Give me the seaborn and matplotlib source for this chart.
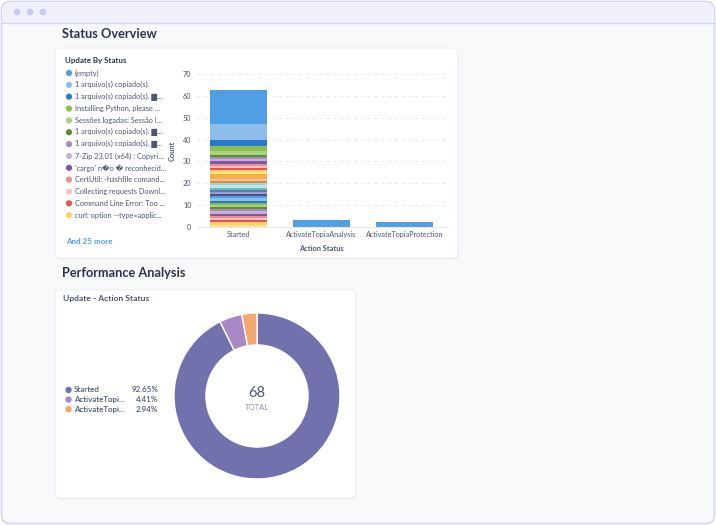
import numpy as np
import pandas as pd
import matplotlib
matplotlib.use("Agg")
import matplotlib.pyplot as plt
import seaborn as sns
from matplotlib.patches import FancyBboxPatch, Circle, Rectangle

# ---------------- data ----------------
statuses = ["Started", "ActivateTopiaAnalysis", "ActivateTopiaProtection"]

shown_labels = [
    "(empty)",
    "1 arquivo(s) copiado(s).",
    "1 arquivo(s) copiado(s). █...",
    "Installing Python, please ...",
    "Sessões logadas: Sessão I...",
    "1 arquivo(s) copiado(s). █...",
    "1 arquivo(s) copiado(s). █...",
    "7-Zip 23.01 (x64) : Copyri...",
    "'cargo' n\ufffdo \ufffd reconhecid...",
    "CertUtil: -hashfile comand...",
    "Collecting requests Downl...",
    "Command Line Error: Too ...",
    "curl: option --type=applic...",
]
hidden_labels = [
    "Other 01", "Other 02", "Other 03", "Other 04", "Other 05",
    "Other 06", "Other 07", "Other 08", "Other 09", "Other 10",
    "Other 11", "Other 12", "Other 13", "Other 14", "Other 15",
    "Other 16", "Other 17", "Other 18", "Other 19", "Other 20",
    "Other 21", "Other 22", "Other 23", "Other 24", "Other 25",
]
more_text = "And 25 more"

# counts of each legend entry (shown + hidden) in the "Started" bar
started_counts = [16, 7, 3, 2, 2, 1, 1, 1, 1, 1, 1, 1, 1,
                  1, 1, 1, 1, 1, 1, 1, 1, 1, 1, 1, 1, 1,
                  1, 1, 1, 1, 1, 1, 1, 1, 1, 1, 1, 1]
analysis_counts = {"(empty)": 3}
protection_counts = {"(empty)": 2}

donut_labels = ["Started", "ActivateTopi...", "ActivateTopi..."]
donut_values = [63, 3, 2]
donut_pcts = ["92.65%", "4.41%", "2.94%"]
donut_total = "68"

series_palette = [
    "#509EE3", "#8DBDEB", "#2A78CC",
    "#88BF4D", "#A9D17E", "#5E8F2D",
    "#A989C5", "#C6B1DA", "#7E58A3",
    "#EF8C8C", "#F6C2C2", "#E35555",
    "#F9D45C", "#FBE194", "#EFB829",
    "#F2A86F", "#F7C7A0", "#E9853C",
    "#98D9D9", "#C0E8E8", "#5FC0C0",
    "#7172AD", "#9C9DCB", "#4E4F8C",
]
donut_colors = ["#7172AD", "#A989C5", "#F2A86F"]

# ---------------- style ----------------
sns.set_theme(style="white")
FONT = ["Lato", "DejaVu Sans"]
plt.rcParams["font.family"] = FONT
DARK = "#2E3447"
MID = "#4C5773"
GRAY = "#949AAB"

W, H = 716, 525
fig = plt.figure(figsize=(W / 100, H / 100), dpi=100)
fig.patch.set_facecolor("white")

bg = fig.add_axes([0, 0, 1, 1])
bg.set_xlim(0, W)
bg.set_ylim(H, 0)
bg.axis("off")
bg.set_zorder(-10)

# browser frame
bg.add_patch(FancyBboxPatch((1.5, 1.5), W - 3, H - 3, boxstyle="round,pad=0,rounding_size=9",
                            facecolor="#F8F9FB", edgecolor="#D4D5F3", linewidth=1.2))
bg.add_patch(FancyBboxPatch((2, 2), W - 4, 21, boxstyle="round,pad=0,rounding_size=8",
                            facecolor="#F0F0FC", edgecolor="none"))
bg.add_patch(Rectangle((2, 14), W - 4, 9, facecolor="#F0F0FC", edgecolor="none"))
bg.plot([2, W - 2], [23, 23], color="#D4D5F3", lw=1)
for cx in (17, 30, 43):
    bg.add_patch(Circle((cx, 12), 3.4, facecolor="#C9CAF1", edgecolor="none"))


def card(x0, y0, x1, y1):
    bg.add_patch(FancyBboxPatch((x0 + 0.5, y0 + 1.5), x1 - x0, y1 - y0,
                                boxstyle="round,pad=0,rounding_size=5",
                                facecolor="#EBEDF2", edgecolor="none"))
    bg.add_patch(FancyBboxPatch((x0, y0), x1 - x0, y1 - y0,
                                boxstyle="round,pad=0,rounding_size=5",
                                facecolor="white", edgecolor="#EEF0F4", linewidth=0.8))


card(55, 48, 458, 258)
card(55, 290, 356, 498)

bg.text(62, 34, "Status Overview", fontsize=9.2, fontweight="bold", color=DARK, va="center")
bg.text(62, 273, "Performance Analysis", fontsize=9.2, fontweight="bold", color=DARK, va="center")
bg.text(65, 60, "Update By Status", fontsize=5.7, fontweight="bold", color=DARK, va="center")
bg.text(63, 299, "Update - Action Status", fontsize=6.1, fontweight="bold", color=MID, va="center")

# legend of first card
all_labels = shown_labels + hidden_labels
keys = [f"{i:02d}|{lab}" for i, lab in enumerate(all_labels)]
colors = [series_palette[i % len(series_palette)] for i in range(len(all_labels))]
for i, lab in enumerate(shown_labels):
    y = 73 + i * 11.85
    bg.add_patch(Circle((69, y), 3.1, facecolor=colors[i], edgecolor="none"))
    bg.text(75, y, lab, fontsize=5.3, color=MID, va="center", family=FONT)
bg.text(66, 241.5, more_text, fontsize=5.8, fontweight="bold", color="#509EE3", va="center")

# ---------------- stacked bar chart ----------------
key_of = dict(zip(all_labels, keys))
rows = []
for k, v in zip(keys, started_counts):
    rows.append(("Started", k, v))
for lab, v in analysis_counts.items():
    rows.append(("ActivateTopiaAnalysis", key_of[lab], v))
for lab, v in protection_counts.items():
    rows.append(("ActivateTopiaProtection", key_of[lab], v))
df = pd.DataFrame(rows, columns=["status", "category", "count"])
df["status"] = pd.Categorical(df["status"], categories=statuses, ordered=True)
df["xpos"] = df["status"].cat.codes

x0p, x1p, y0p, y1p = 197, 446, 74.3, 226.7
ax = fig.add_axes([x0p / W, 1 - y1p / H, (x1p - x0p) / W, (y1p - y0p) / H])
sns.histplot(data=df, x="xpos", hue="category", weights="count", hue_order=keys,
             palette=dict(zip(keys, colors)), multiple="stack", discrete=True,
             shrink=0.69, linewidth=0, alpha=1, legend=False, ax=ax)
ax.set_xlim(-0.5, 2.5)
ax.set_ylim(0, 70)
ax.set_yticks(np.arange(0, 71, 10))
ax.set_xticks(range(len(statuses)))
ax.set_xticklabels(statuses)
ax.yaxis.grid(True, linestyle=(0, (3, 4)), color="#E6E8EE", linewidth=0.7)
ax.set_axisbelow(True)
for s in ("top", "right", "left"):
    ax.spines[s].set_visible(False)
ax.spines["bottom"].set_color("#E6E8EE")
ax.spines["bottom"].set_linewidth(0.8)
ax.tick_params(axis="both", length=0, labelsize=5.2, labelcolor=MID, pad=3)
ax.tick_params(axis="y", pad=4)
ax.set_xlabel("Action Status", fontsize=5.3, fontweight="bold", color=MID, labelpad=5)
ax.set_ylabel("Count", fontsize=5.3, fontweight="bold", color=MID, labelpad=5)
ax.patch.set_alpha(0)

# ---------------- donut ----------------
cx, cy, r = 257, 396, 83
dax = fig.add_axes([(cx - r) / W, 1 - (cy + r) / H, 2 * r / W, 2 * r / H])
dax.pie(donut_values, colors=donut_colors, startangle=90, counterclock=False, radius=1,
        wedgeprops=dict(width=0.385, edgecolor="white", linewidth=1.0))
dax.set_xlim(-1, 1)
dax.set_ylim(-1, 1)
dax.set_aspect("equal")
dax.axis("off")
dax.text(0, 0.04, donut_total, ha="center", va="center", fontsize=10.5, color=MID)
dax.text(0, -0.135, "TOTAL", ha="center", va="center", fontsize=5.5, color=GRAY)

for i, (lab, pct) in enumerate(zip(donut_labels, donut_pcts)):
    y = 390 + i * 9.6
    bg.add_patch(Circle((68.5, y), 3.2, facecolor=donut_colors[i], edgecolor="none"))
    bg.text(74, y, lab, fontsize=5.8, fontweight="semibold", color=MID, va="center")
    bg.text(158, y, pct, fontsize=5.8, fontweight="semibold", color=MID, va="center", ha="right")

fig.savefig("out.png", dpi=100)
